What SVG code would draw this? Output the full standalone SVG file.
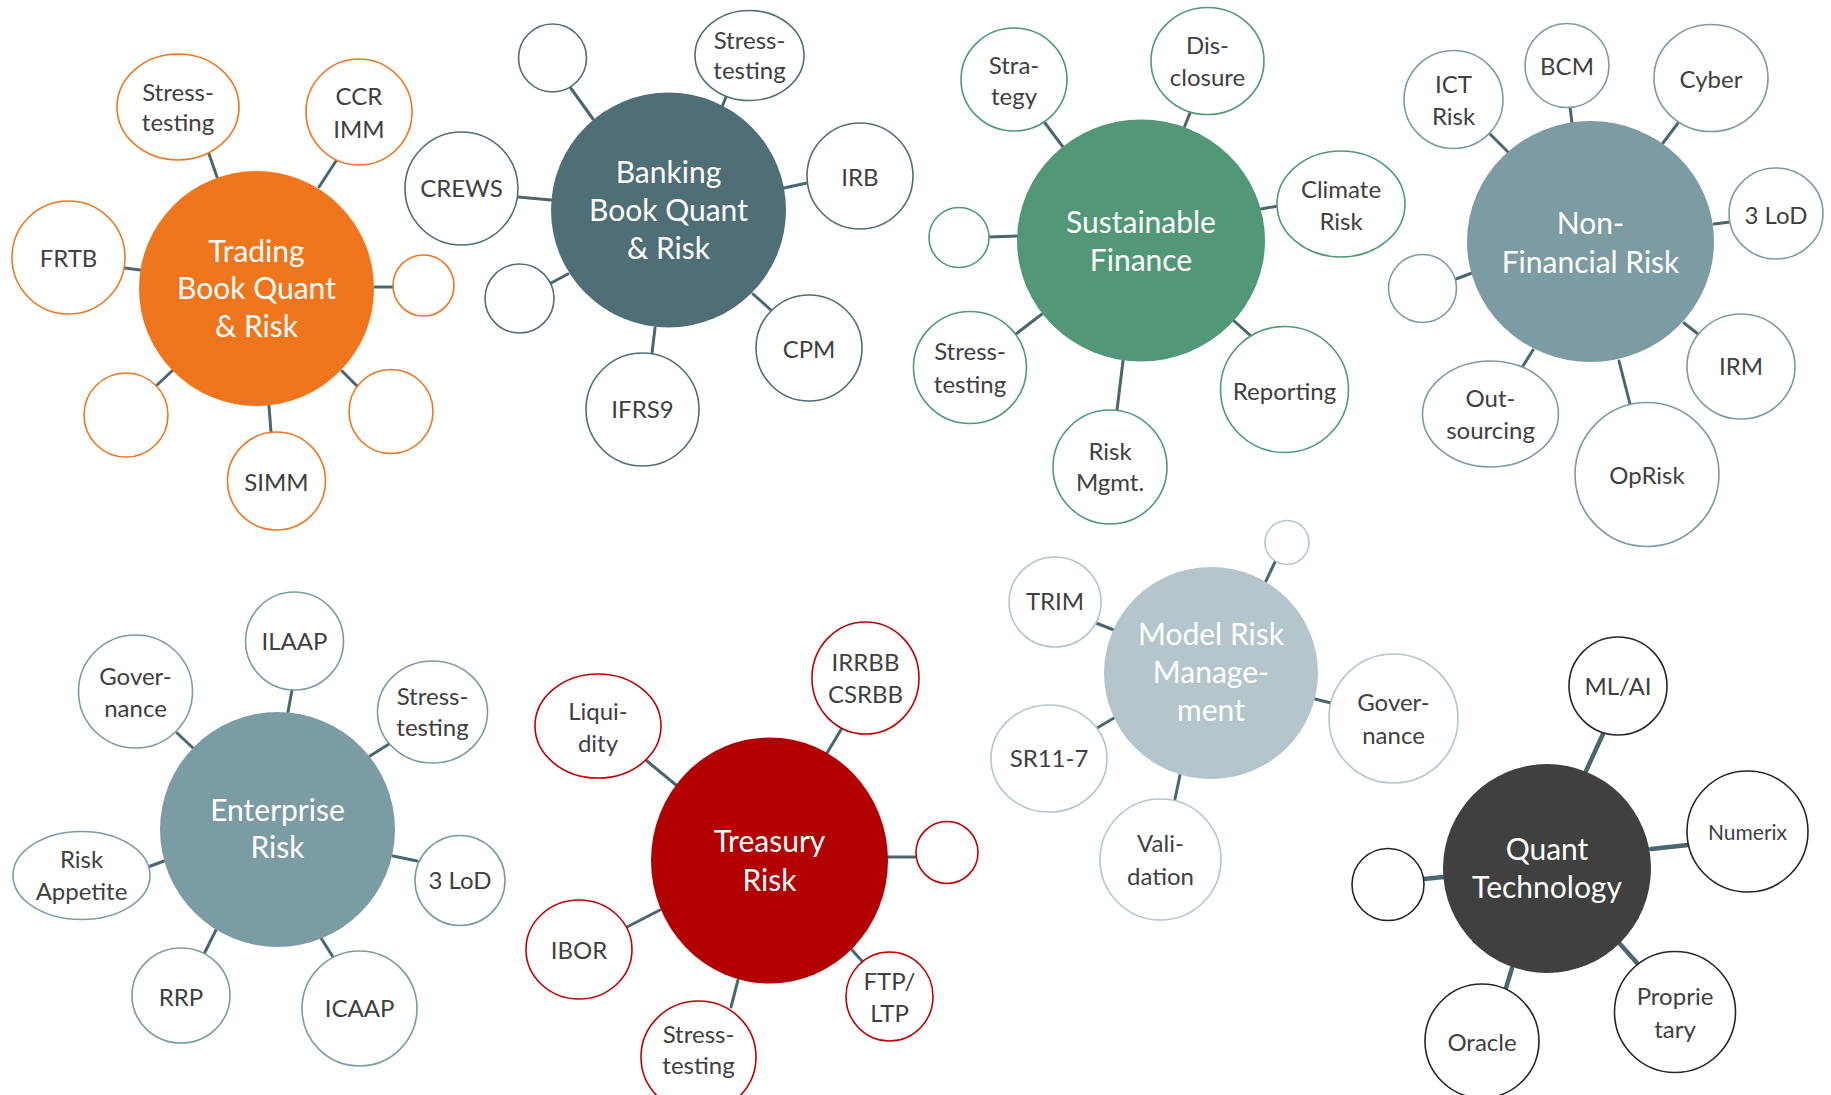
<svg xmlns="http://www.w3.org/2000/svg" width="1831" height="1095" viewBox="0 0 1831 1095">
<style>
text{font-family:Lato,"Liberation Sans",sans-serif;text-anchor:middle}
.c text{font-size:24px;fill:#404040}
.m text{font-size:30px;fill:#ffffff}
.c ellipse{fill:#ffffff;stroke-width:1.6}
.conn line{stroke:#4A6770;stroke-width:3;stroke-linecap:round}
.conn line.q{stroke-width:4.5}
.or ellipse{stroke:#F0761E}
.bk ellipse{stroke:#4F6E75}
.gr ellipse{stroke:#4E9A72}
.nf ellipse{stroke:#7C9BA3}
.er ellipse{stroke:#7C9CA4}
.tr ellipse{stroke:#C00000}
.mr ellipse{stroke:#B4C6CB}
.qt ellipse{stroke:#262626}
</style>
<rect width="1831" height="1095" fill="#ffffff"/>
<g id="connectors" class="conn">
<line x1="209" y1="154" x2="217" y2="177"/>
<line x1="336" y1="161" x2="319" y2="187"/>
<line x1="125" y1="268" x2="140" y2="270"/>
<line x1="375" y1="287" x2="393" y2="287"/>
<line x1="157" y1="385" x2="173" y2="370"/>
<line x1="342" y1="371" x2="357" y2="386"/>
<line x1="269" y1="406" x2="271" y2="432"/>
<line x1="570" y1="87" x2="593" y2="119"/>
<line x1="726" y1="97" x2="722" y2="107"/>
<line x1="518" y1="197" x2="551" y2="200"/>
<line x1="807" y1="183" x2="784" y2="188"/>
<line x1="551" y1="283" x2="568" y2="274"/>
<line x1="772" y1="311" x2="753" y2="294"/>
<line x1="652" y1="353" x2="655" y2="328"/>
<line x1="1045" y1="123" x2="1063" y2="147"/>
<line x1="1190" y1="113" x2="1184" y2="128"/>
<line x1="1278" y1="206" x2="1261" y2="209"/>
<line x1="989" y1="237" x2="1018" y2="236"/>
<line x1="1016" y1="334" x2="1042" y2="314"/>
<line x1="1117" y1="410" x2="1123" y2="361"/>
<line x1="1251" y1="336" x2="1233" y2="320"/>
<line x1="1490" y1="134" x2="1508" y2="152"/>
<line x1="1570" y1="107" x2="1572" y2="123"/>
<line x1="1678" y1="123" x2="1663" y2="143"/>
<line x1="1730" y1="222" x2="1714" y2="224"/>
<line x1="1456" y1="279" x2="1472" y2="273"/>
<line x1="1523" y1="366" x2="1533" y2="350"/>
<line x1="1698" y1="334" x2="1684" y2="323"/>
<line x1="1630" y1="404" x2="1619" y2="361"/>
<line x1="292" y1="690" x2="288" y2="712"/>
<line x1="177" y1="733" x2="193" y2="748"/>
<line x1="389" y1="744" x2="370" y2="756"/>
<line x1="148" y1="867" x2="164" y2="861"/>
<line x1="417" y1="861" x2="393" y2="856"/>
<line x1="204" y1="954" x2="216" y2="930"/>
<line x1="333" y1="957" x2="321" y2="938"/>
<line x1="842" y1="728" x2="827" y2="753"/>
<line x1="647" y1="761" x2="676" y2="785"/>
<line x1="916" y1="857" x2="888" y2="857"/>
<line x1="627" y1="927" x2="660" y2="910"/>
<line x1="862" y1="961" x2="852" y2="950"/>
<line x1="731" y1="1007" x2="738" y2="980"/>
<line x1="1275" y1="562" x2="1266" y2="581"/>
<line x1="1096" y1="623" x2="1114" y2="630"/>
<line x1="1097" y1="728" x2="1114" y2="718"/>
<line x1="1331" y1="703" x2="1315" y2="699"/>
<line x1="1175" y1="799" x2="1180" y2="775"/>
<line class="q" x1="1603" y1="734" x2="1586" y2="771"/>
<line class="q" x1="1688" y1="845" x2="1651" y2="849"/>
<line class="q" x1="1424" y1="879" x2="1443" y2="877"/>
<line class="q" x1="1637" y1="963" x2="1620" y2="944"/>
<line class="q" x1="1506" y1="988" x2="1512" y2="968"/>
</g>

<!-- Trading Book -->
<g id="trading-main" class="m"><ellipse cx="256.5" cy="288.5" rx="117.5" ry="117.5" fill="#F0761E"/><text x="256.5" y="262">Trading</text><text x="256.5" y="299">Book Quant</text><text x="256.5" y="337">&amp; Risk</text></g>
<g id="trading-stress" class="c or"><ellipse cx="178" cy="107" rx="61" ry="53"/><text x="178" y="101">Stress-</text><text x="178" y="131">testing</text></g>
<g id="trading-ccr" class="c or"><ellipse cx="359" cy="112" rx="53" ry="53"/><text x="359" y="105">CCR</text><text x="359" y="138">IMM</text></g>
<g id="trading-frtb" class="c or"><ellipse cx="68.5" cy="257.5" rx="56.5" ry="56.5"/><text x="68.5" y="267">FRTB</text></g>
<g id="trading-empty1" class="c or"><ellipse cx="423.5" cy="285.5" rx="30.5" ry="30.5"/></g>
<g id="trading-empty2" class="c or"><ellipse cx="126" cy="415" rx="42" ry="42"/></g>
<g id="trading-empty3" class="c or"><ellipse cx="391" cy="411.5" rx="42" ry="42"/></g>
<g id="trading-simm" class="c or"><ellipse cx="276.5" cy="481" rx="49" ry="49"/><text x="276.5" y="491">SIMM</text></g>

<!-- Banking Book -->
<g id="banking-main" class="m"><ellipse cx="668.5" cy="210" rx="117.5" ry="117.5" fill="#4F6E75"/><text x="668.5" y="183">Banking</text><text x="668.5" y="221">Book Quant</text><text x="668.5" y="259">&amp; Risk</text></g>
<g id="banking-empty1" class="c bk"><ellipse cx="552.5" cy="58" rx="34" ry="34"/></g>
<g id="banking-stress" class="c bk"><ellipse cx="749.5" cy="55.5" rx="54.5" ry="45"/><text x="749.5" y="49">Stress-</text><text x="749.5" y="79">testing</text></g>
<g id="banking-crews" class="c bk"><ellipse cx="461.5" cy="188.5" rx="56.5" ry="56.5"/><text x="461.5" y="197">CREWS</text></g>
<g id="banking-irb" class="c bk"><ellipse cx="860" cy="176" rx="53" ry="53"/><text x="860" y="186">IRB</text></g>
<g id="banking-empty2" class="c bk"><ellipse cx="519.5" cy="298.5" rx="34.5" ry="34.5"/></g>
<g id="banking-cpm" class="c bk"><ellipse cx="809" cy="348" rx="53" ry="53"/><text x="809" y="358">CPM</text></g>
<g id="banking-ifrs9" class="c bk"><ellipse cx="642.5" cy="409.5" rx="56.5" ry="56.5"/><text x="642.5" y="418">IFRS9</text></g>

<!-- Sustainable Finance -->
<g id="sustainable-main" class="m"><ellipse cx="1141" cy="240.5" rx="124" ry="121" fill="#529777"/><text x="1141" y="232.5">Sustainable</text><text x="1141" y="270.5">Finance</text></g>
<g id="sustainable-strategy" class="c gr"><ellipse cx="1014" cy="79.5" rx="53" ry="51.5"/><text x="1014" y="73.5">Stra-</text><text x="1014" y="104.5">tegy</text></g>
<g id="sustainable-disclosure" class="c gr"><ellipse cx="1207.5" cy="61" rx="56.5" ry="53.5"/><text x="1207.5" y="54">Dis-</text><text x="1207.5" y="86">closure</text></g>
<g id="sustainable-climate" class="c gr"><ellipse cx="1341" cy="204" rx="64" ry="53"/><text x="1341" y="197.5">Climate</text><text x="1341" y="229.5">Risk</text></g>
<g id="sustainable-empty" class="c gr"><ellipse cx="959" cy="237.5" rx="30" ry="30"/></g>
<g id="sustainable-stress" class="c gr"><ellipse cx="970" cy="367.5" rx="56.5" ry="56"/><text x="970" y="359.5">Stress-</text><text x="970" y="392.5">testing</text></g>
<g id="sustainable-riskmgmt" class="c gr"><ellipse cx="1110" cy="467" rx="57" ry="57"/><text x="1110" y="460">Risk</text><text x="1110" y="491">Mgmt.</text></g>
<g id="sustainable-reporting" class="c gr"><ellipse cx="1284.5" cy="389.5" rx="64" ry="63"/><text x="1284.5" y="400">Reporting</text></g>

<!-- Non-Financial Risk -->
<g id="nfr-main" class="m"><ellipse cx="1590.5" cy="241.5" rx="123.5" ry="120.5" fill="#7C9BA3"/><text x="1590.5" y="233.5">Non-</text><text x="1590.5" y="273">Financial Risk</text></g>
<g id="nfr-ict" class="c nf"><ellipse cx="1453.5" cy="99.5" rx="49.5" ry="49"/><text x="1453.5" y="93">ICT</text><text x="1453.5" y="125">Risk</text></g>
<g id="nfr-bcm" class="c nf"><ellipse cx="1567" cy="65.5" rx="42" ry="42"/><text x="1567" y="75">BCM</text></g>
<g id="nfr-cyber" class="c nf"><ellipse cx="1711" cy="78" rx="57" ry="53.5"/><text x="1711" y="88">Cyber</text></g>
<g id="nfr-3lod" class="c nf"><ellipse cx="1776" cy="213.5" rx="47" ry="45.5"/><text x="1776" y="224">3 LoD</text></g>
<g id="nfr-empty" class="c nf"><ellipse cx="1422.5" cy="288.5" rx="34" ry="34"/></g>
<g id="nfr-outsourcing" class="c nf"><ellipse cx="1490.5" cy="414" rx="68" ry="53"/><text x="1490.5" y="407">Out-</text><text x="1490.5" y="439">sourcing</text></g>
<g id="nfr-irm" class="c nf"><ellipse cx="1741" cy="366.5" rx="54" ry="52.5"/><text x="1741" y="375">IRM</text></g>
<g id="nfr-oprisk" class="c nf"><ellipse cx="1647" cy="474.5" rx="72" ry="72"/><text x="1647" y="484">OpRisk</text></g>

<!-- Enterprise Risk -->
<g id="erm-main" class="m"><ellipse cx="277.5" cy="829.5" rx="117.5" ry="117.5" fill="#7C9CA4"/><text x="277.5" y="821">Enterprise</text><text x="277.5" y="858">Risk</text></g>
<g id="erm-ilaap" class="c er"><ellipse cx="294.5" cy="641" rx="49" ry="49"/><text x="294.5" y="650">ILAAP</text></g>
<g id="erm-governance" class="c er"><ellipse cx="135.5" cy="691.5" rx="57" ry="56.5"/><text x="135.5" y="685">Gover-</text><text x="135.5" y="717">nance</text></g>
<g id="erm-stress" class="c er"><ellipse cx="432.5" cy="712" rx="55" ry="51"/><text x="432.5" y="705">Stress-</text><text x="432.5" y="736">testing</text></g>
<g id="erm-appetite" class="c er"><ellipse cx="81.5" cy="875.5" rx="68.5" ry="44"/><text x="81.5" y="868">Risk</text><text x="81.5" y="900">Appetite</text></g>
<g id="erm-3lod" class="c er"><ellipse cx="460" cy="880.5" rx="45" ry="45"/><text x="460" y="889">3 LoD</text></g>
<g id="erm-rrp" class="c er"><ellipse cx="181" cy="995.5" rx="49" ry="47.5"/><text x="181" y="1006">RRP</text></g>
<g id="erm-icaap" class="c er"><ellipse cx="359.5" cy="1008.5" rx="57.5" ry="57.5"/><text x="359.5" y="1017">ICAAP</text></g>

<!-- Treasury Risk -->
<g id="treasury-main" class="m"><ellipse cx="769.5" cy="860.5" rx="118.5" ry="123" fill="#B20000"/><text x="769.5" y="852">Treasury</text><text x="769.5" y="891">Risk</text></g>
<g id="treasury-irrbb" class="c tr"><ellipse cx="865.5" cy="678" rx="53.5" ry="56"/><text x="865.5" y="671">IRRBB</text><text x="865.5" y="703">CSRBB</text></g>
<g id="treasury-liquidity" class="c tr"><ellipse cx="598" cy="726" rx="63" ry="52"/><text x="598" y="720">Liqui-</text><text x="598" y="752">dity</text></g>
<g id="treasury-empty" class="c tr"><ellipse cx="947" cy="852.5" rx="31" ry="31"/></g>
<g id="treasury-ibor" class="c tr"><ellipse cx="579" cy="949.5" rx="53" ry="49.5"/><text x="579" y="959">IBOR</text></g>
<g id="treasury-ftp" class="c tr"><ellipse cx="889.5" cy="996.5" rx="43.5" ry="44.5"/><text x="889.5" y="990">FTP/</text><text x="889.5" y="1022">LTP</text></g>
<g id="treasury-stress" class="c tr"><ellipse cx="698.5" cy="1057" rx="57.5" ry="56"/><text x="698.5" y="1043">Stress-</text><text x="698.5" y="1074">testing</text></g>

<!-- Model Risk Management -->
<g id="mrm-main" class="m"><ellipse cx="1211" cy="673" rx="107" ry="106" fill="#B4C6CB"/><text x="1211" y="645">Model Risk</text><text x="1211" y="683">Manage-</text><text x="1211" y="721">ment</text></g>
<g id="mrm-empty" class="c mr"><ellipse cx="1287" cy="542.5" rx="22" ry="22"/></g>
<g id="mrm-trim" class="c mr"><ellipse cx="1055" cy="602" rx="46" ry="45"/><text x="1055" y="610">TRIM</text></g>
<g id="mrm-sr117" class="c mr"><ellipse cx="1049" cy="758.5" rx="58" ry="53.5"/><text x="1049" y="767">SR11-7</text></g>
<g id="mrm-governance" class="c mr"><ellipse cx="1393.5" cy="718.5" rx="64.5" ry="64.5"/><text x="1393.5" y="711">Gover-</text><text x="1393.5" y="744">nance</text></g>
<g id="mrm-validation" class="c mr"><ellipse cx="1160.5" cy="859.5" rx="60.5" ry="60.5"/><text x="1160.5" y="852">Vali-</text><text x="1160.5" y="885">dation</text></g>

<!-- Quant Technology -->
<g id="qt-main" class="m"><ellipse cx="1547" cy="868.5" rx="104" ry="104.5" fill="#404040"/><text x="1547" y="860">Quant</text><text x="1547" y="898">Technology</text></g>
<g id="qt-mlai" class="c qt"><ellipse cx="1618" cy="686" rx="49" ry="49"/><text x="1618" y="695">ML/AI</text></g>
<g id="qt-numerix" class="c qt"><ellipse cx="1747.5" cy="831.5" rx="60.5" ry="60.5"/><text x="1747.5" y="840" style="font-size:21px">Numerix</text></g>
<g id="qt-empty" class="c qt"><ellipse cx="1388" cy="884.5" rx="36" ry="36"/></g>
<g id="qt-proprietary" class="c qt"><ellipse cx="1675" cy="1012" rx="60.5" ry="60.5"/><text x="1675" y="1005">Proprie</text><text x="1675" y="1038">tary</text></g>
<g id="qt-oracle" class="c qt"><ellipse cx="1482" cy="1041" rx="57" ry="57"/><text x="1482" y="1051">Oracle</text></g>
</svg>
